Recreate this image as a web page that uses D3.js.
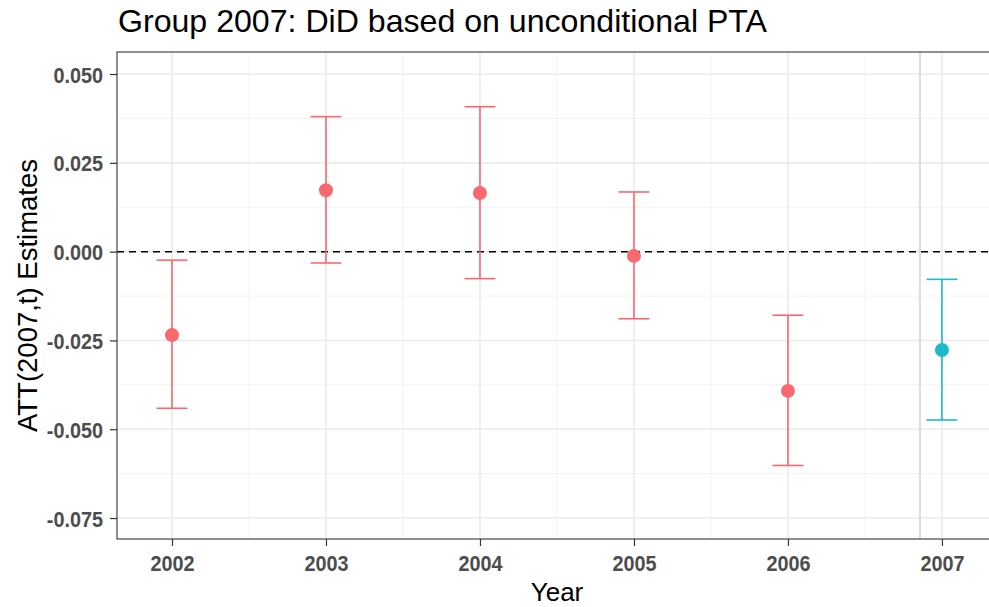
<!DOCTYPE html>
<html>
<head>
<meta charset="utf-8">
<script src="https://cdn.jsdelivr.net/npm/d3@7"></script>
<style>
  html, body { margin: 0; padding: 0; background: #fff; }
  svg { display: block; }
</style>
</head>
<body>
<svg id="chart" width="989" height="607"></svg>
<script>
// Event-study estimates for group 2007
const years = [2002, 2003, 2004, 2005, 2006, 2007];
const att = [-0.0235, 0.0173, 0.0165, -0.0012, -0.0392, -0.0277];
const ciLower = [-0.0441, -0.0032, -0.0076, -0.0189, -0.0602, -0.0474];
const ciUpper = [-0.0024, 0.0380, 0.0408, 0.0168, -0.0179, -0.0078];
const period = ["pre", "pre", "pre", "pre", "pre", "post"];
const yTicks = [0.05, 0.025, 0, -0.025, -0.05, -0.075];
const yMinor = [0.0375, 0.0125, -0.0125, -0.0375, -0.0625];
const xMinor = [2002.5, 2003.5, 2004.5, 2005.5, 2006.5];
const treatLine = 2006.857;

const points = years.map((y, i) => ({
  year: y, att: att[i], lo: ciLower[i], hi: ciUpper[i], period: period[i]
}));

const FONT = "Liberation Sans, Arial, sans-serif";
const svg = d3.select("#chart");
const panel = { left: 117, top: 52, bottom: 539, right: 998 };

const x = d3.scaleLinear().domain([2001.643, 2007.364]).range([panel.left, panel.right]);
const y = d3.scaleLinear().domain([-0.0809, 0.0562]).range([panel.bottom, panel.top]);
const color = d3.scaleOrdinal().domain(["pre", "post"]).range(["#F8696F", "#1FB9CC"]);

const clipId = "panel-clip";
svg.append("defs").append("clipPath").attr("id", clipId)
  .append("rect")
  .attr("x", panel.left).attr("y", panel.top)
  .attr("width", panel.right - panel.left).attr("height", panel.bottom - panel.top);

const g = svg.append("g").attr("clip-path", `url(#${clipId})`);

// grid
g.selectAll(".ymin").data(yMinor).join("line")
  .attr("x1", panel.left).attr("x2", panel.right)
  .attr("y1", d => y(d)).attr("y2", d => y(d))
  .attr("stroke", "#f2f2f2").attr("stroke-width", 1);
g.selectAll(".xmin").data(xMinor).join("line")
  .attr("y1", panel.top).attr("y2", panel.bottom)
  .attr("x1", d => x(d)).attr("x2", d => x(d))
  .attr("stroke", "#f2f2f2").attr("stroke-width", 1);
g.selectAll(".ymaj").data(yTicks).join("line")
  .attr("x1", panel.left).attr("x2", panel.right)
  .attr("y1", d => y(d)).attr("y2", d => y(d))
  .attr("stroke", "#ebebeb").attr("stroke-width", 1.6);
g.selectAll(".xmaj").data(years).join("line")
  .attr("y1", panel.top).attr("y2", panel.bottom)
  .attr("x1", d => x(d)).attr("x2", d => x(d))
  .attr("stroke", "#ebebeb").attr("stroke-width", 1.6);

// treatment onset marker
g.append("line")
  .attr("x1", x(treatLine)).attr("x2", x(treatLine))
  .attr("y1", panel.top).attr("y2", panel.bottom)
  .attr("stroke", "#dedede").attr("stroke-width", 2.2);

// zero reference
g.append("line")
  .attr("x1", panel.left).attr("x2", panel.right)
  .attr("y1", y(0)).attr("y2", y(0))
  .attr("stroke", "#000").attr("stroke-width", 1.5)
  .attr("stroke-dasharray", "7,5");

// error bars
const capHalf = 0.1;
const eb = g.selectAll(".eb").data(points).join("g")
  .attr("stroke", d => color(d.period)).attr("stroke-width", 1.6).attr("fill", "none");
eb.append("line")
  .attr("x1", d => x(d.year)).attr("x2", d => x(d.year))
  .attr("y1", d => y(d.lo)).attr("y2", d => y(d.hi));
eb.append("line")
  .attr("x1", d => x(d.year - capHalf)).attr("x2", d => x(d.year + capHalf))
  .attr("y1", d => y(d.lo)).attr("y2", d => y(d.lo));
eb.append("line")
  .attr("x1", d => x(d.year - capHalf)).attr("x2", d => x(d.year + capHalf))
  .attr("y1", d => y(d.hi)).attr("y2", d => y(d.hi));

// point estimates
g.selectAll(".pt").data(points).join("circle")
  .attr("cx", d => x(d.year)).attr("cy", d => y(d.att))
  .attr("r", 7).attr("fill", d => color(d.period));

// panel border
svg.append("rect")
  .attr("x", panel.left).attr("y", panel.top)
  .attr("width", panel.right - panel.left).attr("height", panel.bottom - panel.top)
  .attr("fill", "none").attr("stroke", "#333").attr("stroke-width", 1.1);

// axes
const fmtY = d => d3.format(".3f")(d).replace("\u2212", "-");
const yAxis = d3.axisLeft(y).tickValues(yTicks).tickFormat(fmtY).tickSize(7).tickPadding(8);
const xAxis = d3.axisBottom(x).tickValues(years).tickFormat(d3.format("d")).tickSize(7).tickPadding(8);

const ya = svg.append("g").attr("transform", `translate(${panel.left},0)`).call(yAxis);
const xa = svg.append("g").attr("transform", `translate(0,${panel.bottom})`).call(xAxis);
[ya, xa].forEach(a => {
  a.select(".domain").remove();
  a.selectAll(".tick line").attr("stroke", "#333").attr("stroke-width", 1.2);
  a.selectAll(".tick text")
    .attr("fill", "#4d4d4d")
    .style("font-family", FONT)
    .style("font-weight", "bold")
    .style("font-size", "22px");
});
// narrower, taller tick-label glyphs
[ya, xa].forEach(a => {
  a.selectAll(".tick text").each(function () {
    const w = this.getComputedTextLength();
    d3.select(this).attr("textLength", w * 0.9).attr("lengthAdjust", "spacingAndGlyphs");
  });
});
ya.selectAll(".tick text").attr("x", -14).attr("dy", "0.37em");
xa.selectAll(".tick text").attr("y", 32).attr("dy", 0);

// titles
svg.append("text")
  .attr("x", 118).attr("y", 32)
  .style("font-family", FONT)
  .style("font-size", "30.5px")
  .attr("fill", "#000")
  .attr("textLength", 649).attr("lengthAdjust", "spacingAndGlyphs")
  .text("Group 2007: DiD based on unconditional PTA");

svg.append("text")
  .attr("x", (panel.left + 997) / 2).attr("y", 601)
  .attr("text-anchor", "middle")
  .style("font-family", FONT)
  .style("font-size", "26px")
  .attr("fill", "#000")
  .text("Year");

svg.append("text")
  .attr("transform", `translate(37,${(panel.top + panel.bottom) / 2}) rotate(-90)`)
  .attr("text-anchor", "middle")
  .style("font-family", FONT)
  .style("font-size", "27.5px")
  .attr("fill", "#000")
  .text("ATT(2007,t) Estimates");
</script>
</body>
</html>
